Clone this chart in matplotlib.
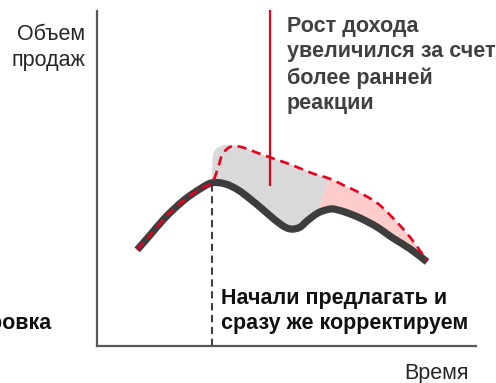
import numpy as np
import matplotlib
matplotlib.use("Agg")
import matplotlib.pyplot as plt
from matplotlib.patches import Polygon, PathPatch
from matplotlib.path import Path

plt.rcParams['font.family'] = ['Liberation Sans', 'DejaVu Sans']

# Sales curve with the usual (late) reaction: time vs. sales volume
base_t = [1.06, 1.40, 1.74, 2.06, 2.37, 2.72, 3.03, 3.38, 3.72, 4.04, 4.36,
          4.70, 4.96, 5.15, 5.36, 5.57, 5.83, 6.04, 6.23, 6.54, 6.94, 7.39,
          7.81, 8.26, 8.71]
base_v = [2.87, 3.31, 3.76, 4.12, 4.42, 4.69, 4.87, 4.84, 4.66, 4.39, 4.09,
          3.76, 3.55, 3.49, 3.55, 3.76, 3.97, 4.06, 4.09, 4.00, 3.82, 3.55,
          3.22, 2.90, 2.51]

# Sales curve when offers start early and are corrected right away
peak_idx = 7  # both curves coincide up to the peak of the base curve
early_t = [3.03, 3.19, 3.30, 3.46, 3.64, 3.90, 4.17, 4.62, 5.15, 5.67,
           6.15, 6.54, 6.94, 7.39, 7.81, 8.26, 8.71]
early_v = [4.87, 5.31, 5.70, 5.91, 5.97, 5.91, 5.79, 5.61, 5.40, 5.16,
           4.99, 4.78, 4.57, 4.27, 3.82, 3.25, 2.54]

# Upper edge of the shaded gain area where it rounds off above the dashed line
shade_t = [3.03, 3.05, 3.12, 3.27, 3.53, 3.90]
shade_v = [4.87, 5.60, 5.85, 5.97, 6.00, 5.93]

start_t = 3.03      # moment offers begin
gain_mark_t = 4.57  # pointer to the revenue gain
split_t = 5.82      # grey (earlier reaction) vs. pink (later gain) area

W, H = 496, 383


def smooth_path(t, v, closed=False):
    """Catmull-Rom curve through the given points, as cubic Bezier segments."""
    p = np.column_stack([t, v]).astype(float)
    n = len(p)
    verts = [p[0]]
    codes = [Path.MOVETO]
    for i in range(n - 1):
        p0 = p[i - 1] if i > 0 else p[i]
        p1 = p[i]
        p2 = p[i + 1]
        p3 = p[i + 2] if i + 2 < n else p[i + 1]
        c1 = p1 + (p2 - p0) / 6.0
        c2 = p2 - (p3 - p1) / 6.0
        verts += [c1, c2, p2]
        codes += [Path.CURVE4] * 3
    if closed:
        verts.append(p[0])
        codes.append(Path.CLOSEPOLY)
    return Path(np.array(verts), codes)


fig = plt.figure(figsize=(4.96, 3.83), dpi=100)
ax = fig.add_axes([97 / W, 37 / H, 379 / W, 335 / H])
ax.set_xlim(0, 10)
ax.set_ylim(0, 10)

for side in ('top', 'right'):
    ax.spines[side].set_visible(False)
for side in ('left', 'bottom'):
    ax.spines[side].set_color('#595959')
    ax.spines[side].set_linewidth(1.6)
ax.set_xticks([])
ax.set_yticks([])

# Area between the two curves after the start moment
upper_t = shade_t + early_t[5:]
upper_v = shade_v + early_v[5:]
lower_t = base_t[peak_idx - 1:]
lower_v = base_v[peak_idx - 1:]


def gain_patch(color):
    top = smooth_path(upper_t, upper_v)
    bottom = smooth_path(lower_t[::-1], lower_v[::-1])
    verts = np.vstack([top.vertices, bottom.vertices, top.vertices[:1]])
    codes = np.concatenate([top.codes, [Path.LINETO], bottom.codes[1:],
                            [Path.CLOSEPOLY]])
    return PathPatch(Path(verts, codes), facecolor=color, edgecolor='none',
                     zorder=1)


grey = gain_patch('#d9d9d9')
pink = gain_patch('#ffcccc')
ax.add_patch(grey)
ax.add_patch(pink)
split_edge = [[split_t + 0.3, 10], [split_t + 0.3, 5.0],
              [split_t + 0.05, 4.2], [split_t - 0.08, 3.4],
              [split_t - 0.08, 0]]
clip_left = Polygon([[0, 0], [0, 10]] + split_edge,
                    closed=True, transform=ax.transData)
clip_right = Polygon([[10, 0], [10, 10]] + split_edge,
                     closed=True, transform=ax.transData)
grey.set_clip_path(clip_left)
pink.set_clip_path(clip_right)

# Start moment marker
ax.plot([start_t, start_t], [0, base_v[peak_idx - 1]], color='#404040',
        lw=1.5, ls=(0, (3.5, 2.2)), zorder=2)

# Base sales curve
ax.add_patch(PathPatch(smooth_path(base_t, base_v), facecolor='none',
                       edgecolor='#3d3d3d', lw=5.2, capstyle='butt',
                       joinstyle='round', zorder=3))

# Early-reaction curve (dashed red)
red_t = base_t[:peak_idx - 1] + early_t
red_v = base_v[:peak_idx - 1] + early_v
ax.add_patch(PathPatch(smooth_path(red_t, red_v), facecolor='none',
                       edgecolor='#e8001c', lw=1.9, ls=(0, (3.5, 2.2)),
                       capstyle='butt', zorder=4))

# Pointer to the revenue gain
ax.plot([gain_mark_t, gain_mark_t], [4.8, 10], color='#e8001c', lw=1.6,
        zorder=5, clip_on=False)


def fx(px):
    return px / W


def fy(py):
    return 1 - py / H


fs = 15.5
fig.text(fx(85), fy(24), 'Объем\nпродаж', ha='right', va='top',
         fontsize=fs, color='#262626', linespacing=1.3)
fig.text(fx(469), fy(363), 'Время', ha='right', va='top',
         fontsize=fs, color='#262626')
fig.text(fx(287), fy(16), 'Рост дохода\nувеличился за счет\nболее ранней\nреакции',
         ha='left', va='top', fontsize=fs, fontweight='bold',
         color='#404040', linespacing=1.28)
fig.text(fx(221), fy(288), 'Начали предлагать и\nсразу же корректируем',
         ha='left', va='top', fontsize=fs, fontweight='bold',
         color='#111111', linespacing=1.28)
fig.text(fx(52), fy(324), 'Корректировка', ha='right', va='center',
         fontsize=fs, fontweight='bold', color='#111111')

fig.savefig('out.png', dpi=100)
